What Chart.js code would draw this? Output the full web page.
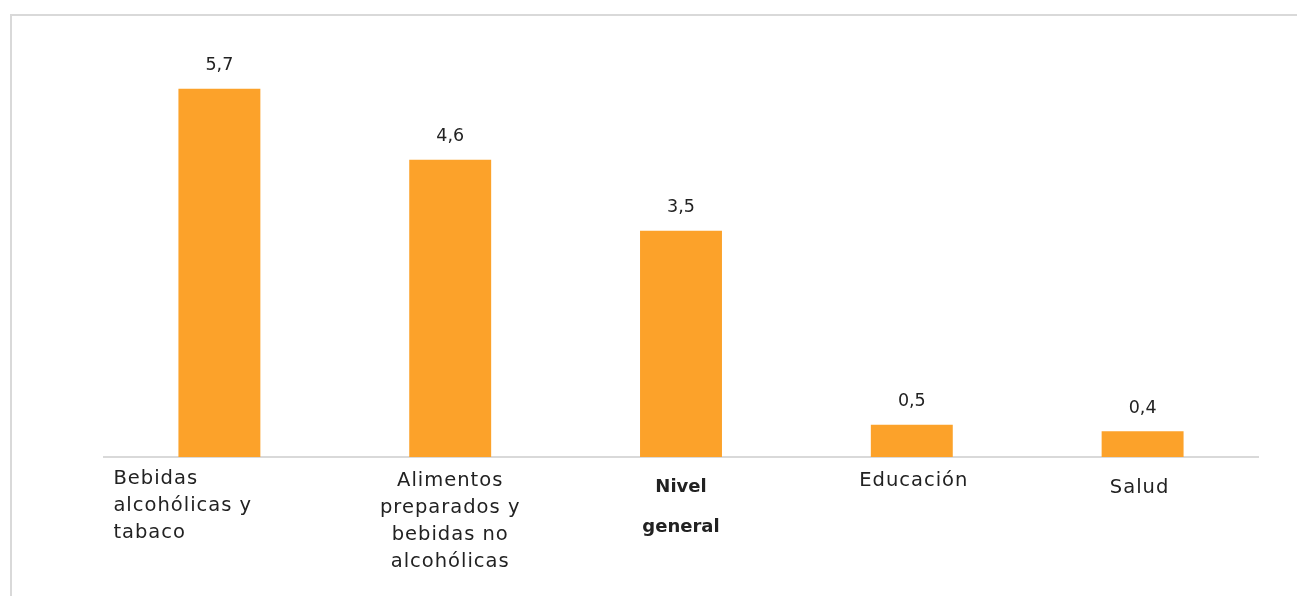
<!DOCTYPE html>
<html>
<head>
<meta charset="utf-8">
<script src="https://cdn.jsdelivr.net/npm/chart.js@4"></script>
<style>
  html, body { margin: 0; padding: 0; background: #fff; overflow: hidden; }
  #wrap { position: absolute; left: 0; top: 0; width: 1297px; height: 596px; }
</style>
</head>
<body>
<div id="wrap"><canvas id="chart"></canvas></div>
<script>
const categories = [
  ["Bebidas", "alcohólicas y", "tabaco"],
  ["Alimentos", "preparados y", "bebidas no", "alcohólicas"],
  ["Nivel", "general"],
  ["Educación"],
  ["Salud"]
];
const values = [5.7, 4.6, 3.5, 0.5, 0.4];
const valueLabels = ["5,7", "4,6", "3,5", "0,5", "0,4"];

const FONT = "'DejaVu Sans', sans-serif";

/* label style for each category: alignment, first-line offset, line height, bold */
const labelStyles = [
  { align: "left", dx: -106, dy: 22, lh: 27, bold: false },
  { align: "center", dx: 0, dy: 24, lh: 27, bold: false },
  { align: "center", dx: 0, dy: 30, lh: 40, bold: true },
  { align: "center", dx: 2, dy: 24, lh: 27, bold: false },
  { align: "center", dx: -3, dy: 31, lh: 27, bold: false }
];

/* light grey frame: only top and left edges are visible in the picture */
const framePlugin = {
  id: "framePlugin",
  beforeDraw(chart) {
    const ctx = chart.ctx;
    ctx.save();
    ctx.strokeStyle = "#d9d9d9";
    ctx.lineWidth = 2;
    ctx.beginPath();
    ctx.moveTo(11, chart.height + 5);
    ctx.lineTo(11, 15);
    ctx.lineTo(chart.width + 5, 15);
    ctx.stroke();
    ctx.restore();
  }
};

const labelPlugin = {
  id: "labelPlugin",
  afterDatasetsDraw(chart) {
    const ctx = chart.ctx;
    const xScale = chart.scales.x;
    const meta = chart.getDatasetMeta(0);
    ctx.save();
    ctx.fillStyle = "#222222";
    ctx.textBaseline = "middle";

    /* values above bars */
    ctx.font = `17.5px ${FONT}`;
    ctx.textAlign = "center";
    meta.data.forEach((bar, i) => {
      ctx.fillText(valueLabels[i], bar.x, bar.y - 23);
    });

    /* category labels under the axis */
    const base = chart.chartArea.bottom;
    categories.forEach((lines, i) => {
      const st = labelStyles[i];
      const cx = xScale.getPixelForValue(i);
      if (st.bold) {
        ctx.font = `bold 18px ${FONT}`;
        ctx.letterSpacing = "0px";
      } else {
        ctx.font = `19.5px ${FONT}`;
        ctx.letterSpacing = "1px";
      }
      ctx.textAlign = st.align;
      lines.forEach((line, j) => {
        ctx.fillText(line, cx + st.dx, base + st.dy + j * st.lh);
      });
    });
    ctx.restore();
  }
};

new Chart(document.getElementById("chart"), {
  type: "bar",
  data: {
    labels: categories.map(c => c.join(" ")),
    datasets: [
      {
        data: values,
        backgroundColor: "#FCA22A",
        borderWidth: 0,
        categoryPercentage: 1,
        barPercentage: 0.355
      }
    ]
  },
  options: {
    responsive: true,
    maintainAspectRatio: false,
    animation: false,
    layout: { padding: { left: 104, right: 39, top: 37, bottom: 139 } },
    plugins: { legend: { display: false }, tooltip: { enabled: false } },
    scales: {
      x: {
        grid: { display: false, drawTicks: false },
        border: { color: "#d9d9d9", width: 2 },
        ticks: { display: false }
      },
      y: { display: false, min: 0, max: 6.5 }
    }
  },
  plugins: [framePlugin, labelPlugin]
});
</script>
</body>
</html>
